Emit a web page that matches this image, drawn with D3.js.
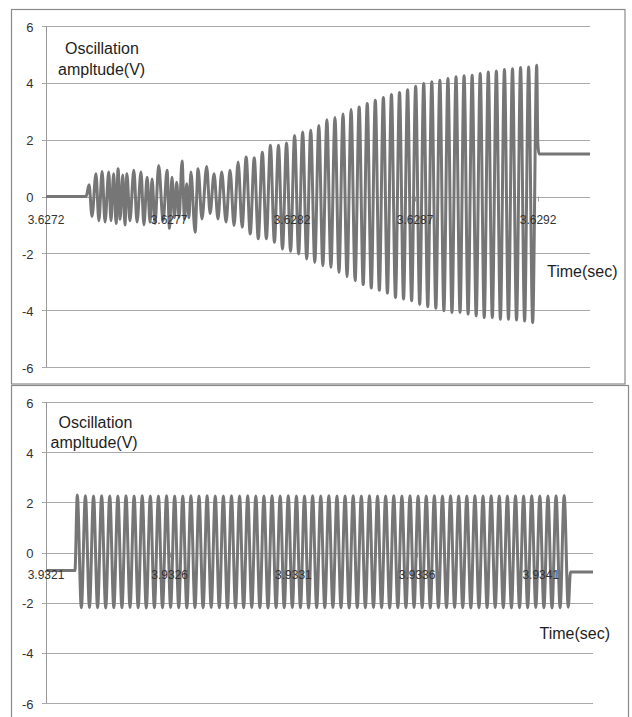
<!DOCTYPE html>
<html>
<head>
<meta charset="utf-8">
<script src="https://cdn.jsdelivr.net/npm/d3@7.9.0/dist/d3.min.js"></script>
<style>
  body { margin: 0; background: #fff; }
  svg { display: block; font-family: "Liberation Sans", Arial, sans-serif; }
</style>
</head>
<body>
<div id="chart"></div>
<script>
// ---- data (time = microseconds after first tick) ----
const yTicks = [-6, -4, -2, 0, 2, 4, 6];
const xTickUs = [0, 500, 1000, 1500, 2000];
const topTickLabels = ["3.6272", "3.6277", "3.6282", "3.6287", "3.6292"];
const bottomTickLabels = ["3.9321", "3.9326", "3.9331", "3.9336", "3.9341"];
const spanUs = 2211;   // visible window length

// top capture: flat start + noisy build-up (explicit extremes)
const topNoiseUs = [0, 163, 175, 187, 203, 215, 228, 240, 255, 264,
    275, 285, 293, 301, 312, 321, 329, 341, 357, 370,
    386, 398, 411, 423, 431, 443, 458, 476, 492, 502,
    512, 522, 531, 541, 553, 563, 572, 581, 589, 606,
    618, 634, 653, 667, 683, 699, 714, 732];
const topNoiseV = [0, 0, 0.41, -0.7, 0.8, -0.85, 0.88, -0.9, 0.86, -0.85,
    0.8, -0.95, 0.98, -0.8, 0.76, -1.0, 0.8, -0.85, 0.92, -0.9,
    0.86, -1.0, 0.68, -0.9, 0.62, -0.95, 1.09, -0.85, 0.92, -1.12,
    0.68, -0.75, 0.5, -0.73, 1.25, -0.8, 0.45, -0.75, 0.86, -1.26,
    0.98, -0.79, 1.06, -0.6, 0.8, -0.79, 0.86, -0.9];

// top capture: steady growing oscillation (one peak / trough per cycle)
const topRampStartUs = 748;
const topRampPeriodUs = 32.8;
const topRampPeaks = [0.92, 1.21, 1.39, 1.36, 1.56, 1.8, 1.8, 1.88, 2.15, 2.27,
    2.33, 2.5, 2.7, 2.78, 2.9, 3.06, 3.15, 3.27, 3.39, 3.48,
    3.59, 3.66, 3.76, 3.88, 3.98, 4.04, 4.09, 4.15, 4.21, 4.25,
    4.27, 4.33, 4.38, 4.42, 4.47, 4.5, 4.54, 4.56, 4.62];
const topRampTroughs = [-1.02, -1.08, -1.32, -1.49, -1.49, -1.61, -1.85, -1.93, -2.02, -2.2,
    -2.32, -2.44, -2.49, -2.67, -2.82, -2.96, -3.1, -3.22, -3.3, -3.4,
    -3.55, -3.61, -3.67, -3.79, -3.88, -3.93, -4.02, -4.08, -4.08, -4.14,
    -4.2, -4.26, -4.26, -4.32, -4.32, -4.35, -4.38, -4.44];
const topTailUs = [1999, 2004, 2211];
const topTailV = [1.85, 1.5, 1.5];

// bottom capture: constant amplitude burst
const bottomLeadUs = [0, 117];
const bottomLeadV = [-0.72, -0.72];
const bottomStartUs = 126.5;
const bottomPeriodUs = 32.8;
const bottomPeaks = [2.29, 2.26, 2.25, 2.26, 2.25, 2.25, 2.26, 2.25, 2.26, 2.25,
    2.25, 2.26, 2.25, 2.25, 2.26, 2.25, 2.26, 2.25, 2.25, 2.26,
    2.25, 2.26, 2.25, 2.25, 2.26, 2.25, 2.26, 2.25, 2.25, 2.26,
    2.25, 2.26, 2.25, 2.25, 2.26, 2.25, 2.26, 2.25, 2.25, 2.26,
    2.25, 2.26, 2.25, 2.25, 2.26, 2.25, 2.26, 2.25, 2.25, 2.26,
    2.25, 2.26, 2.25, 2.25, 2.26, 2.25, 2.26, 2.25, 2.25, 2.26,
    2.27];
const bottomTroughs = [-2.2, -2.19, -2.2, -2.21, -2.2, -2.2, -2.19, -2.2, -2.21, -2.2,
    -2.2, -2.19, -2.2, -2.21, -2.2, -2.2, -2.19, -2.2, -2.21, -2.2,
    -2.2, -2.19, -2.2, -2.21, -2.2, -2.2, -2.19, -2.2, -2.21, -2.2,
    -2.2, -2.19, -2.2, -2.21, -2.2, -2.2, -2.19, -2.2, -2.21, -2.2,
    -2.2, -2.19, -2.2, -2.21, -2.2, -2.2, -2.19, -2.2, -2.21, -2.2,
    -2.2, -2.19, -2.2, -2.21, -2.2, -2.2, -2.19, -2.2, -2.21, -2.2,
    -2.18];
const bottomTailUs = [2120, 2211];
const bottomTailV = [-0.78, -0.78];

// ---- build point lists ----
function zipPts(ts, vs) { return ts.map((t, i) => ({ t: t, v: vs[i] })); }

// peaks and troughs alternate, half a period apart
function cyclePts(start, period, peaks, troughs) {
    const pts = [];
    peaks.forEach((p, i) => {
        pts.push({ t: start + i * period, v: p });
        if (i < troughs.length) pts.push({ t: start + i * period + period / 2, v: troughs[i] });
    });
    return pts;
}

const topPts = [].concat(
    zipPts(topNoiseUs, topNoiseV),
    cyclePts(topRampStartUs, topRampPeriodUs, topRampPeaks, topRampTroughs),
    zipPts(topTailUs, topTailV));

const bottomPts = [].concat(
    zipPts(bottomLeadUs, bottomLeadV),
    cyclePts(bottomStartUs, bottomPeriodUs, bottomPeaks, bottomTroughs),
    zipPts(bottomTailUs, bottomTailV));

// ---- canvas ----
const W = 632, H = 717;
const svg = d3.select("#chart").append("svg")
    .attr("width", W)
    .attr("height", H);

// panel frames
svg.append("rect")
    .attr("x", 11.5).attr("y", 9.5).attr("width", 613.5).attr("height", 374.5)
    .attr("fill", "none").attr("stroke", "#8a8a8a").attr("stroke-width", 1.2);
svg.append("rect")
    .attr("x", 11.5).attr("y", 385.5).attr("width", 617).attr("height", 345)
    .attr("fill", "none").attr("stroke", "#8a8a8a").attr("stroke-width", 1.2);

function drawPanel(cfg) {
    const x = d3.scaleLinear().domain([0, spanUs]).range([46, cfg.xEnd]);
    const y = d3.scaleLinear().domain([-6, 6]).range([cfg.yBottom, cfg.yTop]);
    const g = svg.append("g");

    // horizontal gridlines
    g.selectAll("line.grid")
        .data(yTicks)
        .join("line")
        .attr("class", "grid")
        .attr("x1", 42).attr("x2", x(spanUs))
        .attr("y1", d => Math.round(y(d)) + 0.5)
        .attr("y2", d => Math.round(y(d)) + 0.5)
        .attr("stroke", "#a9a9a9")
        .attr("stroke-width", 1);

    // y axis line
    g.append("line")
        .attr("x1", 46.5).attr("x2", 46.5)
        .attr("y1", y(6)).attr("y2", y(-6))
        .attr("stroke", "#9a9a9a");

    // y labels
    g.selectAll("text.ylab")
        .data(yTicks)
        .join("text")
        .attr("class", "ylab")
        .attr("x", 33.5)
        .attr("y", d => y(d) + 1)
        .attr("text-anchor", "end")
        .attr("dominant-baseline", "central")
        .attr("font-size", 13)
        .attr("fill", "#333")
        .text(d => d);

    // small tick marks below zero line
    g.selectAll("line.xtick")
        .data(xTickUs)
        .join("line")
        .attr("class", "xtick")
        .attr("x1", d => Math.round(x(d)) + 0.5)
        .attr("x2", d => Math.round(x(d)) + 0.5)
        .attr("y1", y(0)).attr("y2", y(0) + 5)
        .attr("stroke", "#9a9a9a");

    // waveform
    const line = d3.line()
        .x(d => x(d.t))
        .y(d => y(d.v))
        .curve(d3.curveMonotoneX);

    g.append("path")
        .datum(cfg.pts)
        .attr("d", line)
        .attr("fill", "none")
        .attr("stroke", "#767676")
        .attr("stroke-width", 3)
        .attr("stroke-linejoin", "round");

    // time tick labels (drawn over the trace)
    g.selectAll("text.xlab")
        .data(xTickUs)
        .join("text")
        .attr("class", "xlab")
        .attr("x", d => x(d))
        .attr("y", y(0) + cfg.xLabDy)
        .attr("text-anchor", "middle")
        .attr("font-size", 12)
        .attr("fill", "#333")
        .text((d, i) => cfg.tickLabels[i]);

    // axis titles
    const title = g.append("g").attr("font-size", 16).attr("fill", "#1e1e1e");
    title.append("text").attr("x", cfg.osc[0]).attr("y", cfg.osc[1]).text("Oscillation");
    title.append("text").attr("x", cfg.amp[0]).attr("y", cfg.amp[1]).text("ampltude(V)");
    title.append("text").attr("x", cfg.time[0]).attr("y", cfg.time[1]).text("Time(sec)");
}

drawPanel({
    pts: topPts, tickLabels: topTickLabels,
    xEnd: 590, yTop: 26, yBottom: 367, xLabDy: 27,
    osc: [65, 54], amp: [58, 75], time: [547, 277]
});

drawPanel({
    pts: bottomPts, tickLabels: bottomTickLabels,
    xEnd: 593, yTop: 402, yBottom: 703, xLabDy: 26,
    osc: [58.5, 428], amp: [50.5, 448], time: [539.5, 639]
});
</script>
</body>
</html>
